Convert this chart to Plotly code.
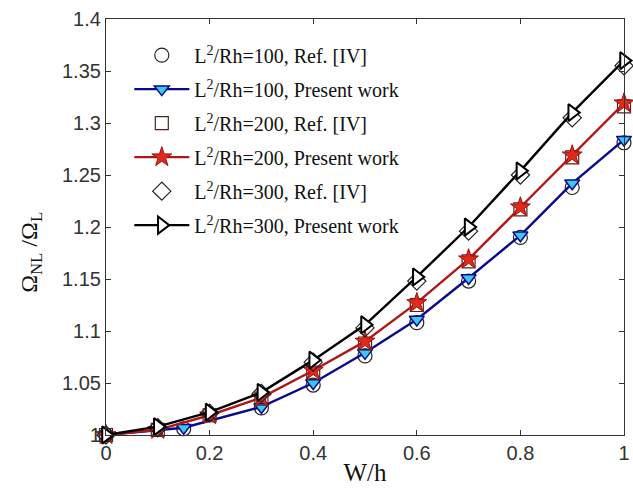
import plotly.graph_objects as go

# ---- data ----
x_blue = [0, 0.15, 0.3, 0.4, 0.5, 0.6, 0.7, 0.8, 0.9, 1.0]
y_blue = [1.0, 1.007, 1.027, 1.050, 1.079, 1.111, 1.151, 1.192, 1.242, 1.284]
y_ref100 = [1.0, 1.006, 1.026, 1.048, 1.076, 1.108, 1.148, 1.190, 1.238, 1.281]

x_std = [0, 0.1, 0.2, 0.3, 0.4, 0.5, 0.6, 0.7, 0.8, 0.9, 1.0]
y_red = [1.0, 1.005, 1.019, 1.036, 1.062, 1.090, 1.127, 1.169, 1.219, 1.269, 1.319]
y_ref200 = [1.0, 1.005, 1.019, 1.035, 1.060, 1.088, 1.125, 1.167, 1.217, 1.267, 1.316]
y_black = [1.0, 1.008, 1.022, 1.041, 1.072, 1.106, 1.152, 1.200, 1.254, 1.310, 1.360]
y_ref300 = [1.0, 1.007, 1.021, 1.040, 1.070, 1.103, 1.148, 1.196, 1.250, 1.305, 1.355]

x_ticks = [0, 0.2, 0.4, 0.6, 0.8, 1.0]
x_ticktext = ["0", "0.2", "0.4", "0.6", "0.8", "1"]
y_ticks = [1.0, 1.05, 1.1, 1.15, 1.2, 1.25, 1.3, 1.35, 1.4]
y_ticktext = ["1", "1.05", "1.1", "1.15", "1.2", "1.25", "1.3", "1.35", "1.4"]

names = [
    "L<sup>2</sup>/Rh=100, Ref. [IV]",
    "L<sup>2</sup>/Rh=100, Present work",
    "L<sup>2</sup>/Rh=200, Ref. [IV]",
    "L<sup>2</sup>/Rh=200, Present work",
    "L<sup>2</sup>/Rh=300, Ref. [IV]",
    "L<sup>2</sup>/Rh=300, Present work",
]

fig = go.Figure()

fig.add_trace(go.Scatter(x=x_blue, y=y_ref100, mode="markers", name=names[0], legendgroup="a",
                         marker=dict(symbol="circle-open", size=14, color="#222222", line=dict(width=1.2))))
fig.add_trace(go.Scatter(x=x_blue, y=y_blue, mode="lines+markers", name=names[1], legendgroup="b",
                         line=dict(color="#0a0a8c", width=2.4),
                         marker=dict(symbol="triangle-down", size=13, color="#38c8f0",
                                     line=dict(color="#0a0a8c", width=1.5))))
fig.add_trace(go.Scatter(x=x_std, y=y_ref200, mode="markers", name=names[2], legendgroup="c",
                         marker=dict(symbol="square-open", size=13, color="#552222", line=dict(width=1.2))))
fig.add_trace(go.Scatter(x=x_std, y=y_red, mode="lines+markers", name=names[3], legendgroup="d",
                         line=dict(color="#b01818", width=2.4),
                         marker=dict(symbol="star", size=15, color="#e02a1a",
                                     line=dict(color="#a01010", width=1))))
fig.add_trace(go.Scatter(x=x_std, y=y_ref300, mode="markers", name=names[4], legendgroup="e",
                         marker=dict(symbol="diamond-open", size=14, color="#222222", line=dict(width=1.2))))
fig.add_trace(go.Scatter(x=x_std, y=y_black, mode="lines+markers", name=names[5], legendgroup="f",
                         line=dict(color="#000000", width=2.4),
                         marker=dict(symbol="triangle-right", size=15, color="white",
                                     line=dict(color="#000000", width=2))))

for tr in fig.data:
    tr.cliponaxis = False

fig.update_layout(
    width=633, height=491,
    margin=dict(l=106, r=3, t=19, b=56),
    paper_bgcolor="white", plot_bgcolor="white",
    showlegend=True,
    legend=dict(x=0.045, y=0.96, xanchor="left", yanchor="top",
                bgcolor="rgba(0,0,0,0)", borderwidth=0,
                font=dict(family="Liberation Serif", size=20, color="#111111"),
                tracegroupgap=5, itemwidth=55),
    font=dict(family="Liberation Sans", color="#333333"),
    annotations=[dict(text="Ω<sub>NL</sub> /Ω<sub>L</sub>", textangle=-90,
                      xref="paper", yref="paper", x=-0.145, y=0.44,
                      xanchor="center", yanchor="middle", showarrow=False,
                      font=dict(family="Liberation Serif", size=24, color="#111111"))],
)

fig.update_xaxes(range=[0, 1], tickvals=x_ticks, ticktext=x_ticktext,
                 showgrid=False, zeroline=False, showline=True, linecolor="#333333", linewidth=1.2,
                 mirror="ticks", ticks="inside", ticklen=5, tickcolor="#333333",
                 ticklabeloverflow="allow",
                 tickfont=dict(family="Liberation Sans", size=20, color="#333333"),
                 title=dict(text="W/h", font=dict(family="Liberation Serif", size=25, color="#111111"),
                            standoff=0))
fig.update_yaxes(range=[1.0, 1.4], tickvals=y_ticks, ticktext=y_ticktext,
                 showgrid=False, zeroline=False, showline=True, linecolor="#333333", linewidth=1.2,
                 mirror="ticks", ticks="inside", ticklen=5, tickcolor="#333333",
                 ticklabeloverflow="allow",
                 tickfont=dict(family="Liberation Sans", size=20, color="#333333"))

fig.write_html("out.html", config={"displayModeBar": False},
               post_script="document.body.style.margin='0';document.body.style.overflow='hidden';")
